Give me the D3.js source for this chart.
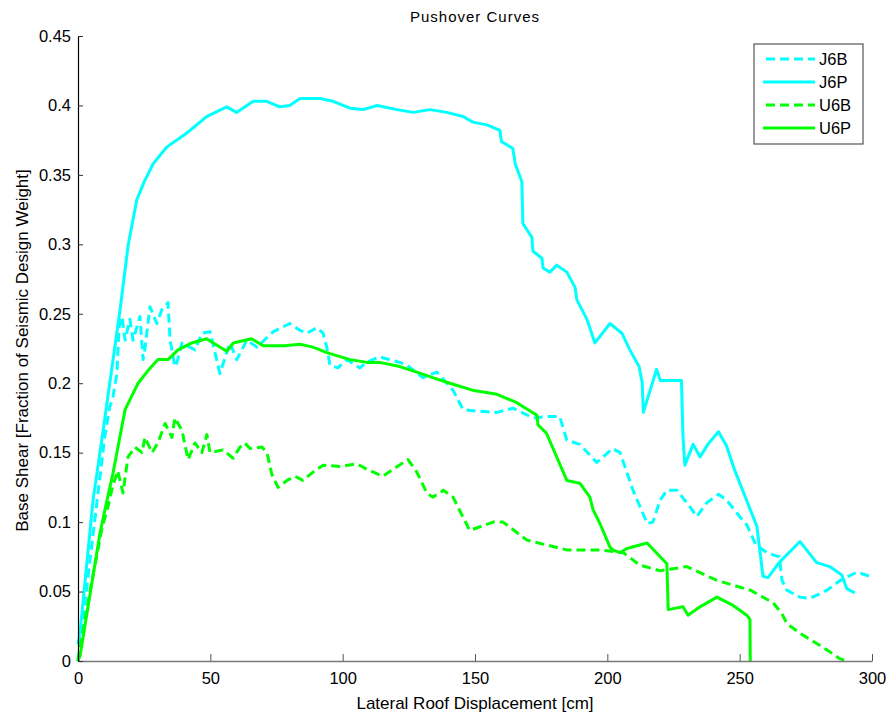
<!DOCTYPE html>
<html>
<head>
<meta charset="utf-8">
<script src="https://cdn.jsdelivr.net/npm/d3@7"></script>
<style>
  body { margin: 0; background: #fff; }
  svg text { font-family: "Liberation Sans", Arial, Helvetica, sans-serif; fill: #000; }
</style>
</head>
<body>
<div id="chart"></div>
<script>
// ========= DATA =========
const TITLE = "Pushover Curves";
const X_LABEL = "Lateral Roof Displacement [cm]";
const Y_LABEL = "Base Shear [Fraction of Seismic Design Weight]";
const X_TICKS = [0, 50, 100, 150, 200, 250, 300];
const Y_TICKS = [0, 0.05, 0.1, 0.15, 0.2, 0.25, 0.3, 0.35, 0.4, 0.45];
const SERIES_NAMES = ["J6B", "J6P", "U6B", "U6P"];

// [desplazamiento cm, cortante basal]
const J6B = [
  [0,0],[5,0.08],[10,0.16],[12,0.183],[13.2,0.19],[14.7,0.207],[15.5,0.24],[16.6,0.248],[17.8,0.231],[19.6,0.246],
  [20.8,0.231],[23.4,0.248],[24.6,0.217],[25.3,0.225],[27.2,0.255],[29.8,0.243],[31.7,0.253],
  [34,0.258],[34.8,0.231],[36.6,0.212],[37.4,0.215],[39.3,0.229],[44.2,0.224],[46.8,0.236],
  [49.9,0.237],[53.6,0.207],[57.4,0.229],[60,0.217],[63.8,0.231],[67.6,0.226],[73.7,0.237],
  [80,0.243],[83.9,0.238],[86.5,0.236],[90.3,0.24],[92.6,0.236],[94,0.226],[95.2,0.213],
  [98.2,0.211],[101.6,0.217],[106.5,0.211],[109,0.215],[114,0.219],[121.6,0.215],[124.3,0.213],
  [130.3,0.204],[135.6,0.208],[141.7,0.195],[145.5,0.181],[150,0.18],[158.3,0.179],[164.3,0.182],
  [172,0.175],[178,0.176],[182,0.176],[184.7,0.159],[189.6,0.156],[196,0.143],[202,0.153],
  [204.8,0.15],[209.7,0.123],[213.5,0.106],[215,0.099],[217.2,0.1],[220,0.116],[222.5,0.123],
  [226.3,0.123],[231.2,0.111],[233.8,0.104],[237.6,0.114],[242,0.12],[245,0.116],[250,0.104],
  [252.7,0.098],[256,0.084],[260.3,0.078],[265,0.075],[266,0.058],[267.8,0.051],[272.8,0.046],
  [276.5,0.045],[283,0.051],[288,0.058],[294.3,0.064],[299.2,0.061]
];

const J6P = [
  [0,0.012],[0.75,0.02],[5.7,0.116],[8.3,0.15],[12,0.2],[15.9,0.253],[19,0.3],[22.2,0.332],
  [25,0.345],[28.4,0.358],[33.5,0.37],[41,0.38],[48.6,0.392],[56.2,0.399],[59.9,0.395],
  [66.2,0.403],[71.3,0.403],[76.3,0.399],[80,0.4],[83.9,0.405],[91.4,0.405],[96.4,0.403],
  [102.8,0.398],[107.7,0.397],[113,0.4],[120.5,0.397],[126.6,0.395],[133,0.397],[139.4,0.395],
  [145.5,0.392],[149.2,0.388],[154.5,0.386],[159.4,0.382],[160,0.374],[164.3,0.369],
  [165.2,0.358],[167.7,0.345],[168.1,0.315],[171.5,0.305],[171.9,0.295],[175.3,0.29],
  [175.7,0.283],[178.3,0.28],[180.9,0.285],[184.7,0.28],[187.8,0.269],[188.5,0.26],
  [192.3,0.246],[195.3,0.229],[201,0.243],[205.5,0.236],[208.5,0.224],[212,0.212],
  [213.2,0.2],[213.6,0.179],[218.6,0.21],[220,0.202],[228,0.202],[228.6,0.161],[229.3,0.141],
  [232.4,0.156],[235,0.147],[238,0.156],[242,0.165],[245,0.155],[248,0.138],[254,0.109],
  [256.5,0.097],[257.6,0.08],[258.8,0.061],[260.7,0.06],[265,0.071],[272.8,0.086],
  [279,0.071],[284,0.068],[288.6,0.062],[290.5,0.052],[293.5,0.049]
];

const U6B = [
  [0,0],[5,0.055],[9,0.095],[11.3,0.111],[13,0.125],[15,0.137],[17,0.121],[18.9,0.147],
  [21.5,0.154],[24.2,0.15],[25.3,0.161],[28,0.15],[30.2,0.157],[32.9,0.171],[35.5,0.161],
  [36.6,0.175],[39.3,0.166],[41.6,0.145],[44.2,0.157],[46.8,0.15],[48.7,0.163],[49.9,0.15],
  [54.8,0.152],[58.6,0.146],[61.2,0.154],[63,0.157],[65,0.153],[69.5,0.154],[71.4,0.15],
  [73.3,0.134],[75.6,0.125],[79,0.13],[82,0.133],[85,0.13],[88.8,0.136],[92.6,0.141],
  [99,0.14],[105.4,0.142],[109.2,0.138],[115.2,0.133],[119,0.138],[124.7,0.145],[128,0.136],
  [131.8,0.121],[134,0.118],[136.8,0.121],[138,0.123],[141.7,0.118],[148,0.094],[156.8,0.1],
  [160.6,0.1],[169.6,0.087],[184.7,0.08],[197.2,0.08],[206,0.078],[212.3,0.069],[220,0.065],
  [230,0.068],[241.4,0.058],[254,0.051],[262.6,0.042],[266,0.034],[267.8,0.027],[272.8,0.02],
  [283,0.008],[288,0.0015],[290.5,0]
];

const U6P = [
  [0,0],[0.8,0.004],[8.3,0.092],[10.2,0.109],[13.2,0.135],[17.8,0.181],[19.6,0.188],
  [22.7,0.2],[26,0.208],[30.2,0.217],[34,0.217],[37.8,0.224],[43,0.229],[48.6,0.232],
  [51.1,0.229],[56.2,0.223],[58.7,0.229],[65.6,0.232],[70,0.227],[78,0.227],[83.9,0.228],
  [88.8,0.226],[94,0.222],[102.8,0.217],[109.2,0.215],[114,0.215],[121.6,0.212],[128,0.208],
  [134,0.204],[140.5,0.2],[149,0.195],[158.3,0.192],[165.8,0.186],[173.4,0.177],[173.8,0.17],
  [177,0.164],[184.7,0.13],[189.6,0.128],[193.4,0.118],[194.6,0.109],[197.2,0.099],
  [201,0.082],[202,0.08],[204.8,0.078],[207.4,0.081],[215,0.085],[222.5,0.07],[223,0.037],
  [228.6,0.039],[230.5,0.033],[235,0.039],[241.4,0.046],[247.5,0.04],[252.7,0.033],
  [253.9,0.03],[254,0]
];

const SERIES_DATA = [J6B, J6P, U6B, U6P];
const SERIES_COLORS = ["#00ffff", "#00ffff", "#00ff00", "#00ff00"];
const SERIES_DASHED = [true, false, true, false];

// ========= RENDER =========
const W = 889, H = 715;
const margin = { top: 36, right: 17, bottom: 54, left: 78 };
const innerW = W - margin.left - margin.right;
const innerH = H - margin.top - margin.bottom;

const svg = d3.select("#chart").append("svg")
  .attr("width", W).attr("height", H);

const g = svg.append("g").attr("transform", `translate(${margin.left},${margin.top})`);

const x = d3.scaleLinear().domain([0, 300]).range([0, innerW]);
const y = d3.scaleLinear().domain([0, 0.45]).range([innerH, 0]);

// curvas
const line = d3.line().x(d => x(d[0])).y(d => y(d[1]));
const curves = g.append("g");
SERIES_DATA.forEach((data, i) => {
  curves.append("path")
    .datum(data)
    .attr("fill", "none")
    .attr("stroke", SERIES_COLORS[i])
    .attr("stroke-width", 3)
    .attr("stroke-linejoin", "round")
    .attr("stroke-dasharray", SERIES_DASHED[i] ? "9,5" : null)
    .attr("d", line);
});

// ejes (ticks hacia adentro, estilo MATLAB)
const xAxis = g.append("g")
  .attr("transform", `translate(0,${innerH})`)
  .call(d3.axisBottom(x).tickValues(X_TICKS).tickSizeInner(-7).tickSizeOuter(0).tickPadding(11)
    .tickFormat(d3.format("d")));
xAxis.select(".domain").attr("stroke", "#777").attr("stroke-width", 1.5);
xAxis.selectAll(".tick line").attr("stroke", "#555");
xAxis.selectAll("text").attr("font-size", 16.5);

const yAxis = g.append("g")
  .call(d3.axisLeft(y).tickValues(Y_TICKS).tickSizeInner(-5).tickSizeOuter(0).tickPadding(7)
    .tickFormat(d => d === 0 ? "0" : String(+d.toFixed(2))));
yAxis.select(".domain").attr("stroke", "#000").attr("stroke-width", 1.2);
yAxis.selectAll(".tick line").attr("stroke", "#333");
yAxis.selectAll("text").attr("font-size", 16.5);

// textos
svg.append("text")
  .attr("x", margin.left + innerW / 2).attr("y", 22)
  .attr("text-anchor", "middle").attr("font-size", 15)
  .attr("letter-spacing", 1)
  .text(TITLE);

svg.append("text")
  .attr("x", margin.left + innerW / 2).attr("y", 709)
  .attr("text-anchor", "middle").attr("font-size", 17)
  .text(X_LABEL);

svg.append("text")
  .attr("transform", `translate(28,${margin.top + innerH / 2 + 2}) rotate(-90)`)
  .attr("text-anchor", "middle").attr("font-size", 17)
  .text(Y_LABEL);

// leyenda
const legend = svg.append("g").attr("transform", "translate(754,44)");
legend.append("rect")
  .attr("width", 109).attr("height", 100)
  .attr("fill", "#fff").attr("stroke", "#555").attr("stroke-width", 1.2);

SERIES_NAMES.forEach((name, i) => {
  const yy = 15 + i * 23;
  legend.append("line")
    .attr("x1", SERIES_DASHED[i] ? 12 : 9).attr("x2", 61)
    .attr("y1", yy).attr("y2", yy)
    .attr("stroke", SERIES_COLORS[i]).attr("stroke-width", 3)
    .attr("stroke-dasharray", SERIES_DASHED[i] ? "9,5" : null);
  legend.append("text")
    .attr("x", 65).attr("y", yy + 6)
    .attr("font-size", 16.5)
    .text(name);
});
</script>
</body>
</html>
